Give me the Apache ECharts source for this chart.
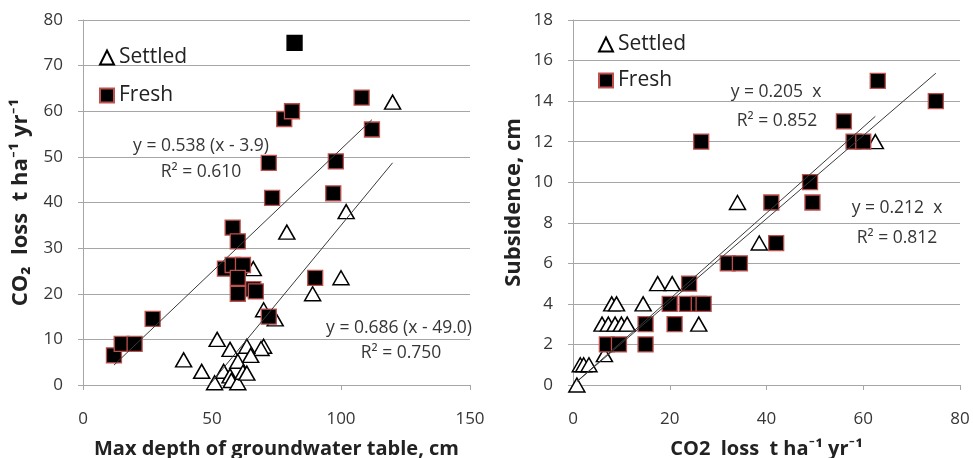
<!DOCTYPE html>
<html>
<head>
<meta charset="utf-8">
<script src="https://cdn.jsdelivr.net/npm/echarts@6/dist/echarts.min.js"></script>
<style>
  html, body { margin: 0; padding: 0; background: #fff; }
  #chart { width: 973px; height: 458px; }
</style>
</head>
<body>
<div id="chart"></div>
<script>
// ---- Left panel: CO2 loss vs. max depth of groundwater table ----
const depthSettled = [
  [120, 62], [102, 38], [79, 33.5], [66, 25.5], [100, 23.5], [89, 20],
  [70, 16.5], [74.5, 14.5], [70, 8.5], [69, 8], [52, 10], [39, 5.5],
  [46, 3], [51, 0.5], [57, 7.8], [54.5, 3], [57, 2], [57.5, 1],
  [60, 5.2], [63.5, 8.5], [65, 6.5], [60, 0.5], [62, 2.8], [63.5, 2.6]
];
const depthFresh = [
  [12, 6.5], [15, 9], [20, 9], [27, 14.5], [55, 25.5], [58, 34.5],
  [60, 31.5], [58, 26.3], [62, 26.3], [60, 23.5], [60, 20], [66, 21],
  [67, 20.5], [72, 15], [72, 48.7], [73.3, 41], [78, 58.3], [81, 60],
  [98, 49], [97, 42], [108, 63], [112, 56], [90, 23.5]
];
// point plotted without the red outline
const depthFreshPlain = [[82, 75]];

// trend lines: y = slope * (x - x0), drawn over the given x range
const trendFreshLeft   = { slope: 0.538, x0: 3.9,  from: 12, to: 112, r2: '0.610' };
const trendSettledLeft = { slope: 0.686, x0: 49.0, from: 49, to: 120, r2: '0.750' };

// ---- Right panel: subsidence vs. CO2 loss ----
const co2Settled = [
  [62.5, 12], [34, 9], [38.5, 7], [17.5, 5], [20.5, 5], [14.5, 4],
  [8, 4], [9, 4], [6, 3], [7.3, 3], [8.7, 3], [10, 3], [11.2, 3],
  [26, 3], [1.5, 1], [2.2, 1], [3.3, 1], [6.5, 1.5], [0.8, 0]
];
const co2Fresh = [
  [63, 15], [75, 14], [56, 13], [26.5, 12], [58, 12], [60, 12],
  [49, 10], [49.5, 9], [41, 9], [42, 7], [32, 6], [34.5, 6],
  [24, 5], [20, 4], [23.5, 4], [26, 4], [27, 4], [21, 3],
  [15, 3], [15, 2], [7, 2], [9.5, 2]
];
// trend lines through the origin: y = slope * x
const trendFreshRight   = { slope: 0.205, from: 1,   to: 75,   r2: '0.852' };
const trendSettledRight = { slope: 0.212, from: 0.8, to: 62.5, r2: '0.812' };

// axis ticks
const depthTicks = { min: 0, max: 150, interval: 50 };
const lossTicks  = { min: 0, max: 80,  interval: 10 };
const co2Ticks   = { min: 0, max: 80,  interval: 20 };
const subsTicks  = { min: 0, max: 18,  interval: 2 };

const FONT = '"Open Sans", Lato, sans-serif';
const GRID_GRAY = '#a6a6a6';
const TEXT_DARK = '#363636';
const TITLE_DARK = '#222222';

function linePoints(t) {
  const x0 = t.x0 || 0;
  return [[t.from, t.slope * (t.from - x0)], [t.to, t.slope * (t.to - x0)]];
}

function xAxisOf(idx, ticks, name) {
  return {
    gridIndex: idx, type: 'value', min: ticks.min, max: ticks.max, interval: ticks.interval,
    name: name, nameLocation: 'middle', nameGap: 54,
    nameTextStyle: { fontFamily: FONT, fontSize: 20, fontWeight: 'bold', color: TITLE_DARK },
    axisLine: { show: true, lineStyle: { color: GRID_GRAY, width: 1 } },
    axisTick: { show: true, length: 5, lineStyle: { color: GRID_GRAY } },
    axisLabel: { fontFamily: FONT, fontSize: 17, color: TEXT_DARK, margin: 26 },
    splitLine: { show: false }
  };
}
function yAxisOf(idx, ticks, name, gap) {
  return {
    gridIndex: idx, type: 'value', min: ticks.min, max: ticks.max, interval: ticks.interval,
    name: name, nameLocation: 'middle', nameGap: gap, nameRotate: 90,
    nameTextStyle: { fontFamily: FONT, fontSize: 22, fontWeight: 'bold', color: TITLE_DARK },
    axisLine: { show: true, lineStyle: { color: GRID_GRAY, width: 1 } },
    axisTick: { show: true, length: 5, lineStyle: { color: GRID_GRAY } },
    axisLabel: { fontFamily: FONT, fontSize: 17, color: TEXT_DARK, margin: 20 },
    splitLine: { show: true, lineStyle: { color: GRID_GRAY, width: 1 } }
  };
}

const settledStyle = { color: '#ffffff', borderColor: '#000000', borderWidth: 1.5, opacity: 1 };
const freshStyle   = { color: '#000000', borderColor: '#c0504d', borderWidth: 1.3, opacity: 1 };

function settledSeries(idx, data) {
  return { name: 'Settled', type: 'scatter', xAxisIndex: idx, yAxisIndex: idx,
    symbol: 'triangle', symbolSize: [16, 14], itemStyle: settledStyle, data: data, z: 2 };
}
function freshSeries(idx, data) {
  return { name: 'Fresh', type: 'scatter', xAxisIndex: idx, yAxisIndex: idx,
    symbol: 'rect', symbolSize: 15, itemStyle: freshStyle, data: data, z: 3 };
}
function trendSeries(idx, t) {
  return { name: 'trend', type: 'line', xAxisIndex: idx, yAxisIndex: idx,
    data: linePoints(t), symbol: 'none', silent: true, z: 4,
    lineStyle: { color: '#3a3a3a', width: 1 } };
}

function eqText(x, y, str) {
  return { type: 'text', x: x, y: y, z: 10,
    style: { text: str, fontFamily: FONT, fontSize: 17.5, fill: TEXT_DARK,
             align: 'center', verticalAlign: 'middle' } };
}
function fmtShift(t) { return 'y = ' + t.slope.toFixed(3) + ' (x - ' + t.x0.toFixed(1) + ')'; }
function fmtOrigin(t) { return 'y = ' + t.slope.toFixed(3) + '  x'; }

function legendOf(left, top, gap) {
  return {
    left: left, top: top, orient: 'vertical', itemGap: gap,
    itemWidth: 14, itemHeight: 14, data: ['Settled', 'Fresh'],
    textStyle: { fontFamily: FONT, fontSize: 21, color: TITLE_DARK },
    selectedMode: false
  };
}

const chart = echarts.init(document.getElementById('chart'), null, { renderer: 'canvas' });

chart.setOption({
  animation: false,
  backgroundColor: '#ffffff',
  grid: [
    { left: 83, top: 20, width: 387, height: 365, outerBoundsMode: 'none', containLabel: false },
    { left: 573, top: 20, width: 387, height: 365, outerBoundsMode: 'none', containLabel: false }
  ],
  xAxis: [
    xAxisOf(0, depthTicks, 'Max depth of groundwater table, cm'),
    xAxisOf(1, co2Ticks, 'CO2  loss  t ha\u207B\u00B9 yr\u207B\u00B9')
  ],
  yAxis: [
    yAxisOf(0, lossTicks, 'CO\u2082  loss  t ha\u207B\u00B9 yr\u207B\u00B9', 51),
    yAxisOf(1, subsTicks, 'Subsidence, cm', 48)
  ],
  legend: [legendOf(94, 42, 17), legendOf(593, 29, 15)],
  series: [
    settledSeries(0, depthSettled),
    freshSeries(0, depthFresh.concat(depthFreshPlain.map(p => ({
      value: p, itemStyle: { borderColor: '#000000' } })))),
    trendSeries(0, trendFreshLeft),
    trendSeries(0, trendSettledLeft),
    settledSeries(1, co2Settled),
    freshSeries(1, co2Fresh),
    trendSeries(1, trendFreshRight),
    trendSeries(1, trendSettledRight)
  ],
  graphic: [
    eqText(201, 146, fmtShift(trendFreshLeft)),
    eqText(201, 172, 'R\u00B2 = ' + trendFreshLeft.r2),
    eqText(399, 328, fmtShift(trendSettledLeft)),
    eqText(401, 353, 'R\u00B2 = ' + trendSettledLeft.r2),
    eqText(776, 92, fmtOrigin(trendFreshRight)),
    eqText(777, 121, 'R\u00B2 = ' + trendFreshRight.r2),
    eqText(897, 208, fmtOrigin(trendSettledRight)),
    eqText(897, 238, 'R\u00B2 = ' + trendSettledRight.r2)
  ]
});
</script>
</body>
</html>
